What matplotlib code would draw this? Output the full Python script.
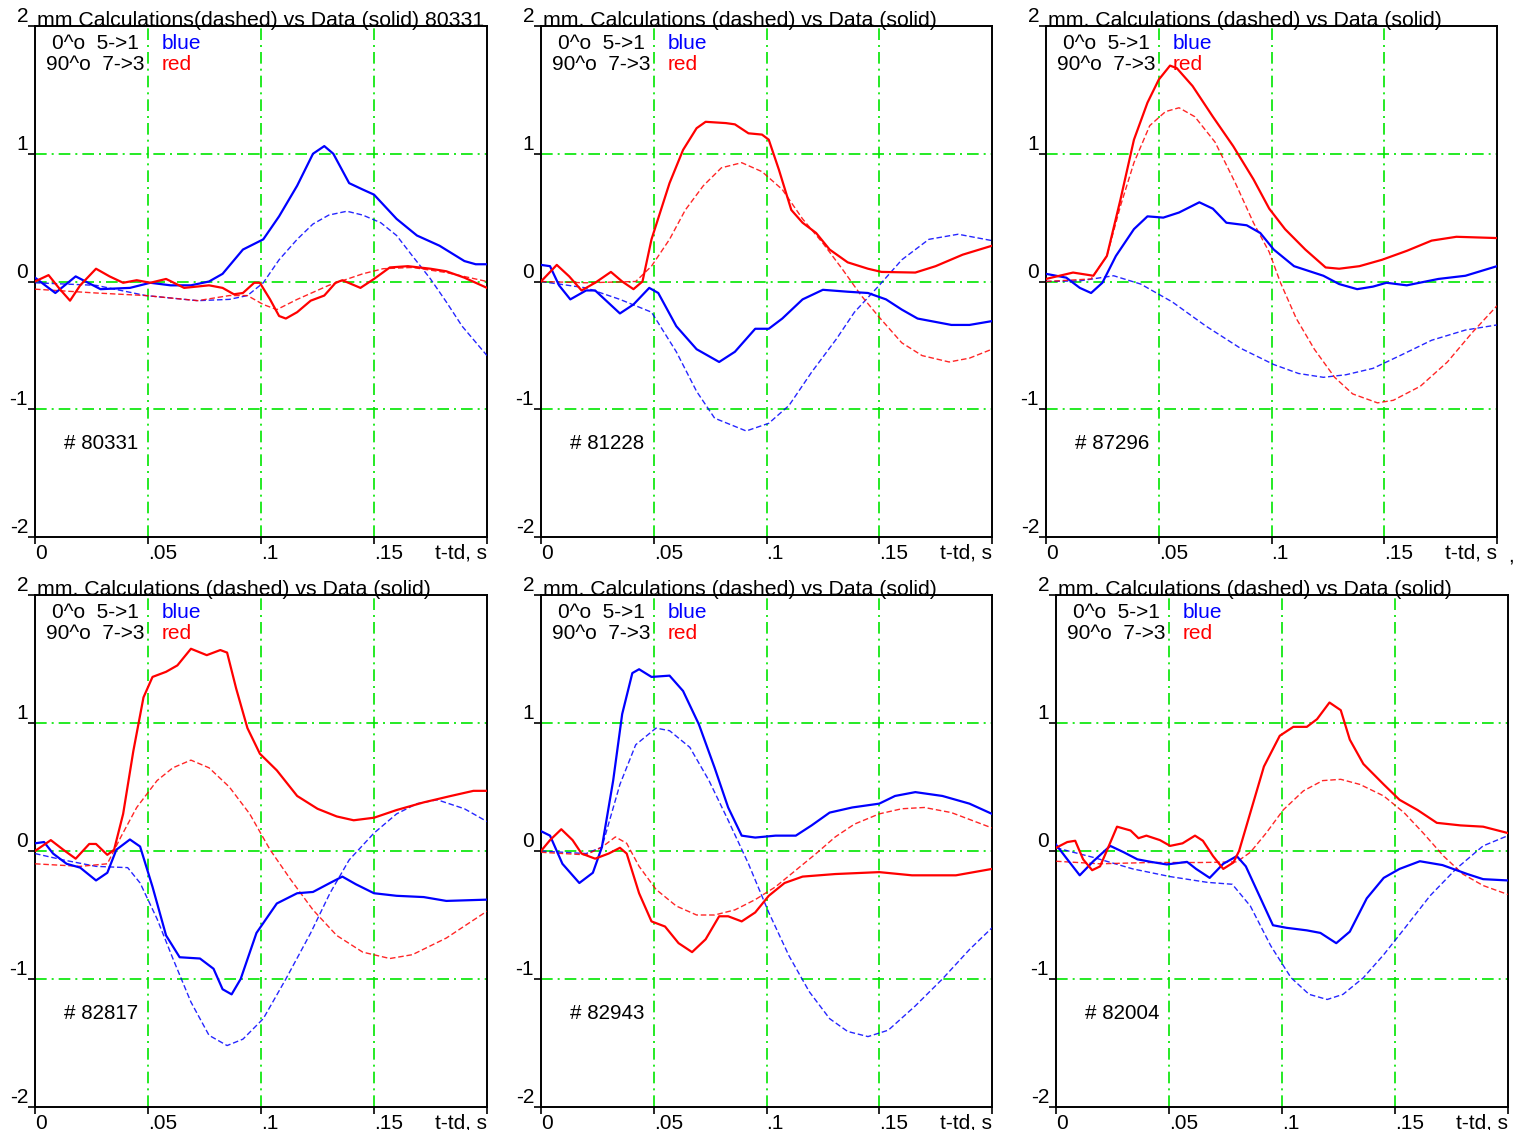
import matplotlib
matplotlib.use("Agg")
import matplotlib.pyplot as plt

plt.rcParams['font.family'] = ['Liberation Sans', 'DejaVu Sans']

# ---- data (t in s, signal in arbitrary units) ----
shots = ['80331', '81228', '87296', '82817', '82943', '82004']
titles = ['mm Calculations(dashed) vs Data (solid) 80331',
          'mm. Calculations (dashed) vs Data (solid)',
          'mm. Calculations (dashed) vs Data (solid)',
          'mm. Calculations (dashed) vs Data (solid)',
          'mm. Calculations (dashed) vs Data (solid)',
          'mm. Calculations (dashed) vs Data (solid)']
x_ticks = [0, 0.05, 0.1, 0.15, 0.2]
x_tick_labels = ['0', '.05', '.1', '.15', 't-td, s']
y_ticks = [-2, -1, 0, 1, 2]
y_tick_labels = ['-2', '-1', '0', '1', '2']

# shot 80331
blue_data_80331 = [(0.0, 0.03), (0.009, -0.09), (0.018, 0.04), (0.029, -0.06), (0.042, -0.05),
                   (0.051, -0.01), (0.060, -0.03), (0.069, -0.03), (0.077, 0.0), (0.083, 0.06),
                   (0.092, 0.25), (0.101, 0.33), (0.108, 0.51), (0.116, 0.75), (0.123, 1.0),
                   (0.128, 1.06), (0.132, 1.0), (0.139, 0.77), (0.145, 0.72), (0.150, 0.68),
                   (0.160, 0.49), (0.169, 0.36), (0.179, 0.28), (0.190, 0.16), (0.195, 0.135),
                   (0.200, 0.135)]
blue_calc_80331 = [(0.0, -0.01), (0.027, -0.03), (0.049, -0.11), (0.072, -0.15), (0.086, -0.14),
                   (0.094, -0.11), (0.101, -0.01), (0.108, 0.17), (0.116, 0.33), (0.123, 0.45),
                   (0.130, 0.52), (0.138, 0.55), (0.145, 0.52), (0.153, 0.46), (0.160, 0.36),
                   (0.167, 0.20), (0.175, 0.02), (0.182, -0.16), (0.189, -0.35), (0.200, -0.58)]
red_data_80331 = [(0.0, 0.0), (0.006, 0.05), (0.011, -0.06), (0.0155, -0.15), (0.020, -0.03),
                  (0.027, 0.10), (0.033, 0.04), (0.039, -0.01), (0.045, 0.01), (0.051, -0.01),
                  (0.058, 0.02), (0.066, -0.05), (0.077, -0.03), (0.083, -0.05), (0.088, -0.10),
                  (0.092, -0.09), (0.097, -0.01), (0.0995, -0.01), (0.104, -0.14), (0.108, -0.27),
                  (0.111, -0.29), (0.116, -0.24), (0.122, -0.15), (0.128, -0.11), (0.133, -0.01),
                  (0.136, 0.01), (0.144, -0.05), (0.150, 0.02), (0.157, 0.11), (0.165, 0.12),
                  (0.175, 0.10), (0.182, 0.08), (0.190, 0.03), (0.200, -0.05)]
red_calc_80331 = [(0.0, -0.06), (0.027, -0.09), (0.049, -0.11), (0.072, -0.15), (0.086, -0.11),
                  (0.094, -0.11), (0.101, -0.18), (0.107, -0.22), (0.116, -0.14), (0.130, -0.03),
                  (0.145, 0.06), (0.154, 0.10), (0.167, 0.11), (0.182, 0.07), (0.200, 0.0)]

# shot 81228
blue_data_81228 = [(0.0, 0.13), (0.004, 0.12), (0.008, -0.03), (0.013, -0.14), (0.020, -0.07),
                   (0.024, -0.07), (0.035, -0.25), (0.041, -0.18), (0.048, -0.05), (0.052, -0.09),
                   (0.060, -0.35), (0.069, -0.53), (0.079, -0.63), (0.086, -0.55), (0.095, -0.37),
                   (0.101, -0.37), (0.107, -0.29), (0.116, -0.14), (0.125, -0.065), (0.136, -0.08),
                   (0.145, -0.09), (0.153, -0.14), (0.160, -0.22), (0.167, -0.29), (0.182, -0.34),
                   (0.190, -0.34), (0.200, -0.31)]
blue_calc_81228 = [(0.0, 0.0), (0.020, -0.05), (0.035, -0.14), (0.049, -0.24), (0.060, -0.55),
                   (0.069, -0.86), (0.077, -1.07), (0.091, -1.17), (0.101, -1.11), (0.110, -0.97),
                   (0.120, -0.71), (0.131, -0.45), (0.139, -0.24), (0.150, -0.03), (0.160, 0.17),
                   (0.172, 0.33), (0.185, 0.37), (0.200, 0.32)]
red_data_81228 = [(0.0, 0.0), (0.007, 0.13), (0.0125, 0.04), (0.018, -0.07), (0.024, -0.01),
                  (0.031, 0.075), (0.036, 0.0), (0.041, -0.06), (0.045, 0.0), (0.049, 0.33),
                  (0.057, 0.77), (0.063, 1.03), (0.069, 1.20), (0.073, 1.25), (0.082, 1.24),
                  (0.086, 1.23), (0.092, 1.16), (0.098, 1.15), (0.101, 1.11), (0.1055, 0.875),
                  (0.111, 0.56), (0.116, 0.46), (0.122, 0.38), (0.128, 0.25), (0.136, 0.15),
                  (0.145, 0.10), (0.151, 0.075), (0.166, 0.07), (0.175, 0.12), (0.187, 0.21),
                  (0.200, 0.28)]
red_calc_81228 = [(0.0, 0.0), (0.020, -0.01), (0.042, 0.0), (0.049, 0.12), (0.057, 0.33),
                  (0.064, 0.56), (0.072, 0.75), (0.080, 0.89), (0.089, 0.93), (0.098, 0.86),
                  (0.107, 0.72), (0.116, 0.49), (0.125, 0.30), (0.1335, 0.10), (0.142, -0.11),
                  (0.150, -0.28), (0.160, -0.48), (0.169, -0.58), (0.181, -0.63), (0.190, -0.60),
                  (0.200, -0.53)]

# shot 87296
blue_data_87296 = [(0.0, 0.06), (0.009, 0.03), (0.015, -0.05), (0.020, -0.09), (0.025, -0.01),
                   (0.031, 0.20), (0.039, 0.41), (0.045, 0.51), (0.052, 0.50), (0.059, 0.54),
                   (0.068, 0.62), (0.074, 0.57), (0.080, 0.46), (0.089, 0.44), (0.095, 0.38),
                   (0.101, 0.25), (0.110, 0.12), (0.123, 0.045), (0.130, -0.02), (0.138, -0.06),
                   (0.145, -0.04), (0.151, -0.01), (0.160, -0.03), (0.174, 0.02), (0.186, 0.045),
                   (0.200, 0.12)]
blue_calc_87296 = [(0.0, 0.0), (0.015, 0.005), (0.030, 0.045), (0.042, -0.02), (0.056, -0.16),
                   (0.071, -0.35), (0.086, -0.52), (0.101, -0.65), (0.112, -0.72), (0.123, -0.75),
                   (0.133, -0.73), (0.145, -0.68), (0.157, -0.58), (0.171, -0.46), (0.186, -0.38),
                   (0.200, -0.34)]
red_data_87296 = [(0.0, 0.02), (0.012, 0.07), (0.021, 0.045), (0.027, 0.20), (0.033, 0.64),
                  (0.039, 1.11), (0.045, 1.40), (0.050, 1.58), (0.055, 1.69), (0.058, 1.67),
                  (0.065, 1.53), (0.074, 1.29), (0.083, 1.06), (0.092, 0.80), (0.099, 0.57),
                  (0.106, 0.41), (0.115, 0.25), (0.124, 0.11), (0.130, 0.10), (0.139, 0.12),
                  (0.149, 0.17), (0.160, 0.24), (0.171, 0.32), (0.182, 0.35), (0.200, 0.34)]
red_calc_87296 = [(0.0, 0.0), (0.020, 0.02), (0.027, 0.20), (0.033, 0.59), (0.039, 0.93),
                  (0.046, 1.22), (0.053, 1.33), (0.059, 1.36), (0.066, 1.29), (0.075, 1.09),
                  (0.084, 0.77), (0.092, 0.46), (0.099, 0.23), (0.104, -0.01), (0.111, -0.29),
                  (0.119, -0.53), (0.128, -0.75), (0.136, -0.88), (0.147, -0.95), (0.154, -0.93),
                  (0.166, -0.82), (0.178, -0.63), (0.189, -0.40), (0.200, -0.19)]

# shot 82817
blue_data_82817 = [(0.0, 0.06), (0.004, 0.07), (0.008, -0.02), (0.014, -0.10), (0.020, -0.13),
                   (0.027, -0.23), (0.032, -0.17), (0.036, 0.01), (0.042, 0.09), (0.0465, 0.035),
                   (0.052, -0.28), (0.058, -0.66), (0.064, -0.83), (0.073, -0.84), (0.079, -0.92),
                   (0.083, -1.08), (0.087, -1.12), (0.091, -1.0), (0.098, -0.64), (0.107, -0.41),
                   (0.116, -0.33), (0.123, -0.32), (0.1305, -0.25), (0.136, -0.20), (0.142, -0.26),
                   (0.150, -0.33), (0.160, -0.35), (0.172, -0.36), (0.182, -0.39), (0.200, -0.38)]
blue_calc_82817 = [(0.0, -0.02), (0.0125, -0.07), (0.027, -0.12), (0.041, -0.13), (0.0465, -0.25),
                   (0.054, -0.53), (0.061, -0.84), (0.069, -1.18), (0.077, -1.44), (0.085, -1.52),
                   (0.092, -1.47), (0.101, -1.31), (0.111, -1.0), (0.122, -0.64), (0.1305, -0.33),
                   (0.139, -0.07), (0.150, 0.14), (0.160, 0.29), (0.169, 0.37), (0.178, 0.40),
                   (0.190, 0.33), (0.200, 0.23)]
red_data_82817 = [(0.0, 0.0), (0.007, 0.085), (0.0125, 0.01), (0.018, -0.06), (0.024, 0.055),
                  (0.027, 0.055), (0.032, -0.03), (0.035, 0.01), (0.039, 0.29), (0.0435, 0.78),
                  (0.048, 1.20), (0.052, 1.36), (0.058, 1.40), (0.063, 1.45), (0.069, 1.58),
                  (0.076, 1.53), (0.082, 1.57), (0.085, 1.55), (0.089, 1.27), (0.094, 0.96),
                  (0.0995, 0.76), (0.107, 0.63), (0.116, 0.43), (0.125, 0.33), (0.1335, 0.27),
                  (0.141, 0.24), (0.150, 0.26), (0.160, 0.32), (0.172, 0.38), (0.184, 0.43),
                  (0.194, 0.47), (0.200, 0.47)]
red_calc_82817 = [(0.0, -0.10), (0.020, -0.12), (0.032, -0.10), (0.038, 0.11), (0.045, 0.34),
                  (0.054, 0.55), (0.061, 0.65), (0.069, 0.71), (0.077, 0.65), (0.086, 0.50),
                  (0.095, 0.29), (0.104, 0.01), (0.113, -0.22), (0.123, -0.46), (0.1335, -0.66),
                  (0.145, -0.79), (0.157, -0.84), (0.167, -0.81), (0.182, -0.68), (0.200, -0.47)]

# shot 82943
blue_data_82943 = [(0.0, 0.155), (0.004, 0.12), (0.0095, -0.10), (0.017, -0.25), (0.023, -0.17),
                   (0.027, 0.03), (0.032, 0.55), (0.036, 1.07), (0.0405, 1.39), (0.0435, 1.42),
                   (0.049, 1.36), (0.057, 1.37), (0.063, 1.25), (0.070, 0.99), (0.077, 0.65),
                   (0.083, 0.34), (0.089, 0.12), (0.095, 0.105), (0.104, 0.12), (0.113, 0.12),
                   (0.120, 0.20), (0.128, 0.30), (0.138, 0.34), (0.150, 0.37), (0.157, 0.43),
                   (0.166, 0.46), (0.178, 0.43), (0.190, 0.37), (0.200, 0.29)]
blue_calc_82943 = [(0.0, 0.0), (0.020, -0.02), (0.027, 0.03), (0.035, 0.52), (0.042, 0.83),
                   (0.051, 0.96), (0.057, 0.94), (0.066, 0.81), (0.0745, 0.55), (0.083, 0.24),
                   (0.092, -0.10), (0.101, -0.48), (0.110, -0.82), (0.119, -1.10), (0.128, -1.31),
                   (0.136, -1.41), (0.145, -1.45), (0.154, -1.40), (0.166, -1.21), (0.178, -1.0),
                   (0.190, -0.77), (0.200, -0.60)]
red_data_82943 = [(0.0, 0.0), (0.004, 0.085), (0.009, 0.17), (0.014, 0.085), (0.018, -0.02),
                  (0.024, -0.06), (0.030, -0.02), (0.035, 0.025), (0.038, -0.02), (0.0435, -0.33),
                  (0.049, -0.55), (0.055, -0.59), (0.061, -0.72), (0.067, -0.79), (0.073, -0.69),
                  (0.079, -0.51), (0.083, -0.51), (0.089, -0.55), (0.095, -0.48), (0.101, -0.35),
                  (0.108, -0.25), (0.116, -0.20), (0.1305, -0.18), (0.150, -0.165), (0.1645, -0.19),
                  (0.184, -0.19), (0.200, -0.14)]
red_calc_82943 = [(0.0, -0.01), (0.020, -0.03), (0.027, 0.03), (0.033, 0.11), (0.038, 0.06),
                  (0.0435, -0.12), (0.051, -0.30), (0.060, -0.43), (0.069, -0.50), (0.077, -0.50),
                  (0.086, -0.46), (0.095, -0.38), (0.104, -0.28), (0.113, -0.15), (0.122, -0.02),
                  (0.1305, 0.11), (0.139, 0.21), (0.150, 0.29), (0.160, 0.33), (0.170, 0.34),
                  (0.182, 0.30), (0.200, 0.18)]

# shot 82004
blue_data_82004 = [(0.0, 0.05), (0.005, -0.065), (0.0105, -0.19), (0.0165, -0.08), (0.024, 0.04),
                   (0.030, -0.01), (0.036, -0.065), (0.042, -0.085), (0.049, -0.105), (0.058, -0.085),
                   (0.062, -0.14), (0.068, -0.21), (0.074, -0.10), (0.080, -0.04), (0.084, -0.12),
                   (0.090, -0.35), (0.096, -0.58), (0.102, -0.60), (0.111, -0.62), (0.117, -0.64),
                   (0.124, -0.72), (0.130, -0.63), (0.1375, -0.37), (0.145, -0.21), (0.152, -0.14),
                   (0.161, -0.08), (0.171, -0.11), (0.182, -0.18), (0.189, -0.22), (0.200, -0.23)]
blue_calc_82004 = [(0.0, 0.025), (0.0165, -0.05), (0.034, -0.14), (0.0505, -0.20), (0.067, -0.245),
                   (0.078, -0.26), (0.086, -0.43), (0.095, -0.74), (0.104, -0.99), (0.112, -1.12),
                   (0.120, -1.16), (0.127, -1.12), (0.136, -0.99), (0.145, -0.81), (0.154, -0.61),
                   (0.1655, -0.35), (0.177, -0.14), (0.189, 0.04), (0.200, 0.12)]
red_data_82004 = [(0.0, 0.025), (0.005, 0.07), (0.0085, 0.08), (0.012, -0.065), (0.016, -0.15),
                  (0.0195, -0.12), (0.024, 0.065), (0.027, 0.19), (0.033, 0.16), (0.0365, 0.10),
                  (0.040, 0.12), (0.046, 0.085), (0.0505, 0.04), (0.056, 0.06), (0.0615, 0.12),
                  (0.065, 0.08), (0.0695, -0.04), (0.074, -0.14), (0.0785, -0.09), (0.081, 0.0),
                  (0.086, 0.30), (0.092, 0.66), (0.099, 0.90), (0.105, 0.97), (0.111, 0.97),
                  (0.1155, 1.03), (0.121, 1.16), (0.126, 1.10), (0.130, 0.87), (0.136, 0.68),
                  (0.145, 0.52), (0.152, 0.40), (0.160, 0.32), (0.1685, 0.22), (0.179, 0.20),
                  (0.189, 0.19), (0.200, 0.14)]
red_calc_82004 = [(0.0, -0.08), (0.0195, -0.10), (0.0415, -0.09), (0.064, -0.09), (0.080, -0.085),
                  (0.086, -0.01), (0.093, 0.14), (0.1005, 0.32), (0.1095, 0.47), (0.118, 0.55),
                  (0.126, 0.56), (0.1345, 0.52), (0.145, 0.43), (0.154, 0.30), (0.1625, 0.14),
                  (0.1715, -0.04), (0.180, -0.18), (0.189, -0.27), (0.200, -0.34)]

panel_curves = [
    (blue_data_80331, blue_calc_80331, red_data_80331, red_calc_80331),
    (blue_data_81228, blue_calc_81228, red_data_81228, red_calc_81228),
    (blue_data_87296, blue_calc_87296, red_data_87296, red_calc_87296),
    (blue_data_82817, blue_calc_82817, red_data_82817, red_calc_82817),
    (blue_data_82943, blue_calc_82943, red_data_82943, red_calc_82943),
    (blue_data_82004, blue_calc_82004, red_data_82004, red_calc_82004),
]

# ---- layout (pixel boxes of the axes: left, top, right, bottom) ----
W, H = 1516, 1130
boxes = [(35, 26, 487, 537), (541, 26, 992, 537), (1046, 26, 1497, 537),
         (35, 595, 487, 1107), (541, 595, 992, 1107), (1056, 595, 1508, 1107)]

BLUE = '#0000ff'
RED = '#ff0000'
GREEN = '#00e600'
FS = 15

fig = plt.figure(figsize=(W / 100, H / 100), dpi=100)

for i, (l, t, r, b) in enumerate(boxes):
    ax = fig.add_axes([l / W, 1 - b / H, (r - l) / W, (b - t) / H])
    ax.set_xlim(0, 0.2)
    ax.set_ylim(-2, 2)

    for gx in (0.05, 0.1, 0.15):
        ax.axvline(gx, color=GREEN, lw=1.2, ls=(0, (7, 3, 1.2, 3)), zorder=1)
    for gy in (-1, 0, 1):
        ax.axhline(gy, color=GREEN, lw=1.2, ls=(0, (7, 3, 1.2, 3)), zorder=1)

    bd, bc, rd, rc = panel_curves[i]
    ax.plot(*zip(*bc), color=BLUE, lw=1.0, ls=(0, (4, 2)), alpha=0.85, zorder=3)
    ax.plot(*zip(*rc), color=RED, lw=1.0, ls=(0, (4, 2)), alpha=0.85, zorder=3)
    ax.plot(*zip(*bd), color=BLUE, lw=1.6, zorder=4)
    ax.plot(*zip(*rd), color=RED, lw=1.6, zorder=4)

    for s in ax.spines.values():
        s.set_linewidth(1.4)
    ax.set_xticks(x_ticks)
    ax.set_xticklabels(x_tick_labels, fontsize=FS, ha='left')
    ax.get_xticklabels()[-1].set_ha('right')
    ax.set_yticks(y_ticks)
    ax.set_yticklabels(y_tick_labels, fontsize=FS, va='bottom')
    ax.tick_params(direction='out', length=5, width=1.2, pad=0)

    ax.text(0.001, 2, titles[i], fontsize=15.3, ha='left', va='baseline', clip_on=False)
    ax.text(0.0075, 1.86, '0^o  5->1', fontsize=FS, ha='left', va='center')
    ax.text(0.005, 1.70, '90^o  7->3', fontsize=FS, ha='left', va='center')
    ax.text(0.056, 1.86, 'blue', fontsize=FS, color=BLUE, ha='left', va='center')
    ax.text(0.056, 1.70, 'red', fontsize=FS, color=RED, ha='left', va='center')
    ax.text(0.013, -1.27, '# ' + shots[i], fontsize=14.8, ha='left', va='center')

fig.text(1511 / W, 1 - 556 / H, ',', fontsize=FS, ha='center', va='center')

fig.savefig('out.png', dpi=100)
